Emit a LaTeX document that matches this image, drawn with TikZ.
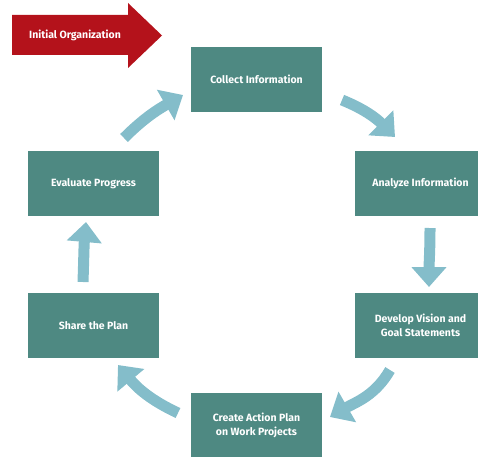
\documentclass[tikz,border=0pt]{standalone}
\usepackage{fontspec}
\setmainfont{Fira Sans}
\usetikzlibrary{arrows.meta}
\definecolor{stepteal}{HTML}{4E8982}
\definecolor{flowblue}{HTML}{84BDCA}
\definecolor{startred}{HTML}{B4121B}
\begin{document}
\begin{tikzpicture}[x=1pt,y=1pt,
  labelfont/.style={font=\fontsize{10.5}{13.5}\selectfont\bfseries},
  stepbox/.style={fill=stepteal, text=white, minimum width=131pt, minimum height=65pt,
    inner sep=0pt, align=center, labelfont},
  cycarrow/.style={draw=flowblue, line width=11pt, -{Triangle[width=34pt,length=20pt]}},
]
\useasboundingbox (0,0) rectangle (478,456);
\clip (0,0) rectangle (478,456);

% start marker
\fill[startred] (12,441) -- (128,441) -- (128,453) -- (162,420.5) -- (128,388)
  -- (128,401) -- (12,401) -- cycle;
\node[text=white, labelfont] (start) at (75,421) {Initial Organization};

% the six steps of the cycle
\node[stepbox] (collect)  at (256.5,376.5) {Collect Information};
\node[stepbox] (analyze)  at (420.5,272.5) {Analyze Information};
\node[stepbox] (develop)  at (420.5,130.5) {Develop Vision and\\Goal Statements};
\node[stepbox] (create)   at (256.5,30.5)  {Create Action Plan\\on Work Projects};
\node[stepbox] (share)    at (93.5,130.5)  {Share the Plan};
\node[stepbox] (evaluate) at (93.5,272.5)  {Evaluate Progress};

% arrow ends between the steps
\coordinate (a1s) at (124,318); \coordinate (a1e) at (183,361);
\coordinate (a2s) at (342,356); \coordinate (a2e) at (395,319);
\coordinate (a3s) at (430,228); \coordinate (a3e) at (429,169);
\coordinate (a4s) at (390,86);  \coordinate (a4e) at (330,39);
\coordinate (a5s) at (178,43);  \coordinate (a5e) at (118,91);
\coordinate (a6s) at (83,174);  \coordinate (a6e) at (86,234);

\draw[cycarrow] (a1s) to[out=45,in=210] (a1e);
\draw[cycarrow] (a2s) to[out=-22,in=135] (a2e);
\draw[cycarrow] (a3s) to[out=-90,in=90] (a3e);
\draw[cycarrow] (a4s) to[out=-120,in=30] (a4e);
\draw[cycarrow] (a5s) to[out=155,in=-50] (a5e);
\draw[cycarrow] (a6s) to[out=88,in=-95] (a6e);
\end{tikzpicture}
\end{document}
